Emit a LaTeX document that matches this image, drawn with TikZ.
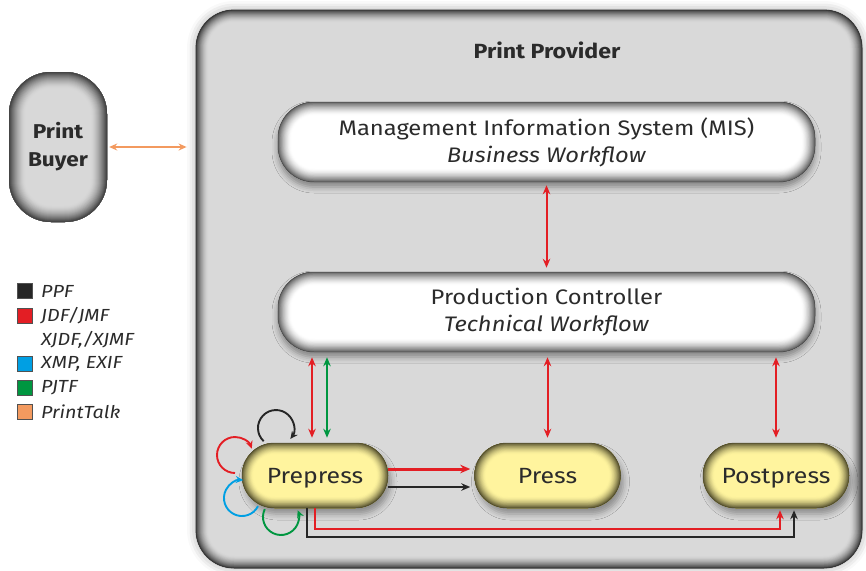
\documentclass[tikz,border=0pt]{standalone}
\usepackage{fontspec}
\setmainfont{Fira Sans}[FakeStretch=1.13]
\usetikzlibrary{arrows.meta,shadows.blur}

\definecolor{jdfred}{HTML}{E31E24}
\definecolor{pjtfgreen}{HTML}{009640}
\definecolor{xmpblue}{HTML}{009FE3}
\definecolor{ptorange}{HTML}{F39A5F}
\definecolor{ppfblack}{HTML}{262626}
\definecolor{panelgray}{HTML}{D9D9D9}
\definecolor{paneledge}{HTML}{444444}
\definecolor{buyeredge}{HTML}{454545}
\definecolor{buyerfill}{HTML}{D8D8D8}
\definecolor{sysedge}{HTML}{666666}
\definecolor{stagefill}{HTML}{FFF49E}
\definecolor{stageedge}{HTML}{615C36}
\definecolor{inktext}{HTML}{2B2B2B}

\tikzset{
  x=1pt, y=-1pt,
  % inner glow: stacked outlines clipped to the shape, fading from edge colour to fill
  glow/.style n args={4}{% edge colour, fill colour, depth, corner radius
    fill=#2, rounded corners=#4,
    path picture={
      \foreach \k in {1,...,16}{
        \pgfmathsetmacro\glowwidth{2*#3*(17-\k)/16}
        \pgfmathsetmacro\glowmix{100*(\k/16)^1.6}
        \draw[line width=\glowwidth pt, draw=#1!\glowmix!#2, rounded corners=#4]
          (path picture bounding box.south west) rectangle (path picture bounding box.north east);
      }
    }},
  provider/.style={glow={paneledge}{panelgray}{12}{38},
    draw=paneledge!80!black, line width=0.8pt,
    minimum width=666pt, minimum height=558pt,
    blur shadow={shadow xshift=0pt, shadow yshift=0pt, shadow blur radius=9pt, shadow opacity=35}},
  buyer/.style={glow={buyeredge}{buyerfill}{16}{42},
    minimum width=98pt, minimum height=150pt, text=inktext, align=center,
    font=\fontsize{20}{28}\selectfont\bfseries},
  system/.style={glow={sysedge}{white}{13}{36},
    draw=sysedge!70!black, line width=0.5pt,
    minimum width=537pt, minimum height=80pt, text=inktext, align=center,
    font=\fontsize{21}{27}\selectfont,
    blur shadow={shadow xshift=0pt, shadow yshift=-5pt, shadow blur radius=6pt, shadow opacity=40}},
  stage/.style={glow={stageedge}{stagefill}{11}{32.5},
    draw=stageedge!80!black, line width=0.5pt,
    minimum width=146pt, minimum height=65pt, text=inktext,
    text height=15.2pt, text depth=0pt,
    font=\fontsize{22}{26}\selectfont,
    blur shadow={shadow xshift=3pt, shadow yshift=-6pt, shadow blur radius=6pt, shadow opacity=35}},
  both/.style={line width=2pt, {Stealth[length=9pt,width=7.5pt]}-{Stealth[length=9pt,width=7.5pt]},
    shorten <=5pt, shorten >=5pt},
  loopline/.style={line width=1.9pt, -{Stealth[length=7.5pt,width=7pt]}},
  swatch/.style={draw=ppfblack!80, line width=0.6pt, minimum size=15pt, inner sep=0pt},
  legtext/.style={anchor=west, inner sep=0pt, text=inktext,
    font=\fontsize{17.5}{20}\selectfont\itshape},
}

\begin{document}
\begin{tikzpicture}
\useasboundingbox (0,0) rectangle (866,570);

% Print provider panel and its title
\node[provider] (provider) at (529,289) {};
\node[text=inktext, font=\fontsize{20.5}{22}\selectfont\bfseries] (provtitle) at (547,50) {Print Provider};

% Print buyer
\node[buyer] (buyer) at (58,147) {Print\\Buyer};

% Business and technical layers
\node[system] (mis) at (546.5,142) {Management Information System (MIS)\\\textit{Business Workflow}};
\node[system] (pc) at (546.5,312) {Production Controller\\\textit{Technical Workflow}};

% Production stages
\node[stage] (prepress) at (315,475.5) {Prepress};
\node[stage] (press) at (547.5,475.5) {Press};
\node[stage] (postpress) at (776,475.5) {Postpress};

% PrintTalk between buyer and provider
\draw[ptorange, line width=1.7pt, {Stealth[length=8pt,width=7pt]}-{Stealth[length=8pt,width=7pt]},
  shorten <=2pt, shorten >=9pt] (buyer.east) -- (buyer.east -| provider.west);

% JDF/JMF links between the layers
\draw[both, jdfred, shorten <=3pt, shorten >=4pt] (mis.south) -- (pc.north);
\draw[both, jdfred] ([xshift=-3pt]prepress.north) -- ([xshift=-3pt]prepress.north |- pc.south);
\draw[both, pjtfgreen] ([xshift=12pt]prepress.north) -- ([xshift=12pt]prepress.north |- pc.south);
\draw[both, jdfred] (press.north) -- (press.north |- pc.south);
\draw[both, jdfred] (postpress.north) -- (postpress.north |- pc.south);

% Prepress to press
\draw[jdfred, line width=3pt, -{Stealth[length=10pt,width=8.5pt]}, shorten >=4pt]
  ([yshift=6.5pt]prepress.east) -- ([yshift=6.5pt]prepress.east -| press.west);
\draw[ppfblack, line width=2.3pt, -{Stealth[length=9pt,width=7.5pt]}, shorten >=4pt]
  ([yshift=-11.5pt]prepress.east) -- ([yshift=-11.5pt]prepress.east -| press.west);

% Prepress to postpress, routed underneath
\draw[jdfred, line width=2.2pt, -{Stealth[length=9pt,width=7.5pt]}, shorten >=2pt]
  (prepress.south) -- ++(0,21) -| ([xshift=4pt]postpress.south);
\draw[ppfblack, line width=2.2pt, -{Stealth[length=9pt,width=7.5pt]}, shorten >=2pt]
  ([xshift=-8pt]prepress.south) -- ++(0,29) -| ([xshift=18pt]postpress.south);

% Self loops on prepress
\draw[loopline, ppfblack] ([shift={(-51.3,-34.3)}]prepress.center) arc[start angle=133, end angle=397, radius=18];
\draw[loopline, jdfred] ([shift={(-80,-2.5)}]prepress.center) arc[start angle=90, end angle=339, radius=18];
\draw[loopline, xmpblue] ([shift={(-57,30.7)}]prepress.center) arc[start angle=27, end angle=274, radius=18];
\draw[loopline, pjtfgreen] ([shift={(-50.2,33.6)}]prepress.center) arc[start angle=206, end angle=-22, radius=18];

% Legend
\node[swatch, fill=ppfblack] (swppf) at (25,291) {};
\node[legtext] (lgppf) at (41,291) {PPF};
\node[swatch, fill=jdfred] (swjdf) at (25,316) {};
\node[legtext] (lgjdf) at (41,316) {JDF/JMF};
\node[legtext] (lgxjdf) at (41,340) {XJDF,/XJMF};
\node[swatch, fill=xmpblue] (swxmp) at (25,364) {};
\node[legtext] (lgxmp) at (41,364) {XMP, EXIF};
\node[swatch, fill=pjtfgreen] (swpjtf) at (25,388) {};
\node[legtext] (lgpjtf) at (41,388) {PJTF};
\node[swatch, fill=ptorange] (swpt) at (25,412) {};
\node[legtext] (lgpt) at (41,412) {PrintTalk};
\end{tikzpicture}
\end{document}
